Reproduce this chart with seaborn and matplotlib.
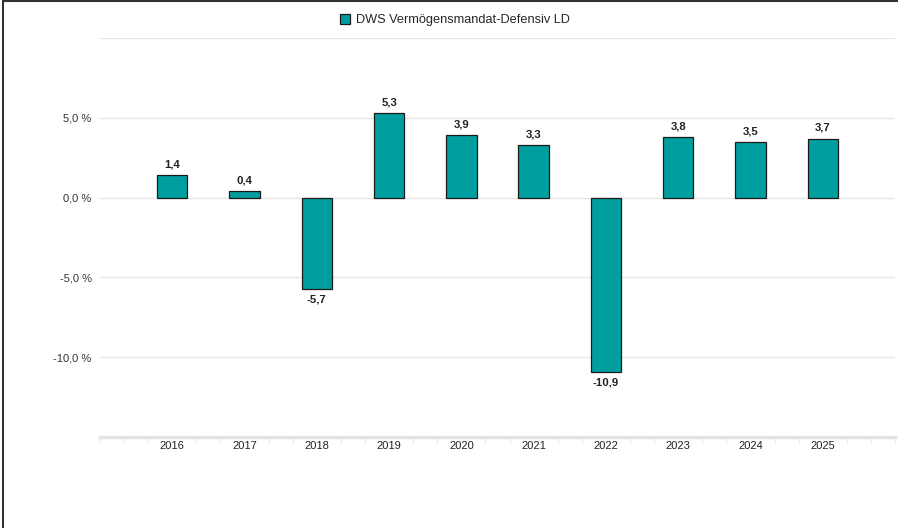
import pandas as pd
import seaborn as sns
import matplotlib.pyplot as plt
from matplotlib.lines import Line2D
from matplotlib.patches import Patch
from matplotlib.ticker import MultipleLocator

years = ['2016', '2017', '2018', '2019', '2020', '2021', '2022', '2023', '2024', '2025']
returns = [1.4, 0.4, -5.7, 5.3, 3.9, 3.3, -10.9, 3.8, 3.5, 3.7]
series_name = 'DWS Vermögensmandat-Defensiv LD'
ytick_vals = [-10, -5, 0, 5, 10]
ytick_labels = ['-10,0 %', '-5,0 %', '0,0 %', '5,0 %', '']

teal = '#009E9E'

sns.set_theme(style='white')
plt.rcParams['font.family'] = ['Liberation Sans', 'DejaVu Sans']

df = pd.DataFrame({'year': years, 'ret': returns})

fig = plt.figure(figsize=(8.98, 5.28), dpi=100)
ax = fig.add_axes([100 / 898, 91 / 528, 795 / 898, 399 / 528])

sns.barplot(data=df, x='year', y='ret', color=teal, saturation=1, width=0.42,
            edgecolor='#1a1a1a', linewidth=0.9, ax=ax, zorder=3)

ax.set_xlim(-1, 10)
ax.set_ylim(-15, 10)
ax.set_yticks(ytick_vals)
ax.set_yticklabels(ytick_labels)
ax.yaxis.grid(True, color='#e6e6e6', lw=1)
ax.set_axisbelow(True)
ax.set(xlabel='', ylabel='')

for s in ['top', 'right', 'left']:
    ax.spines[s].set_visible(False)
ax.spines['bottom'].set_color('#e3e3e3')
ax.spines['bottom'].set_linewidth(2.5)

ax.tick_params(axis='y', length=0, labelsize=8, labelcolor='#333333', pad=6)
ax.tick_params(axis='x', length=0, labelsize=8, labelcolor='#222222', pad=3)
ax.xaxis.set_minor_locator(MultipleLocator(1 / 3))
ax.tick_params(axis='x', which='minor', length=5, width=0.8, color='#ededed', bottom=True)

labels = [f'{v:.1f}'.replace('.', ',') for v in returns]
ax.bar_label(ax.containers[0], labels=labels, padding=4, fontsize=8.2,
             fontweight='bold', color='#222222')

handle = Patch(facecolor=teal, edgecolor='#1a1a1a', linewidth=0.9)
fig.legend([handle], [series_name], loc='center', bbox_to_anchor=(455 / 898, 1 - 20 / 528),
           frameon=False, fontsize=9.2, handlelength=0.8, handleheight=0.9, handletextpad=0.5)

# outer frame (top and left edge)
fig.add_artist(Line2D([3 / 898, 3 / 898], [0, 1 - 1 / 528], transform=fig.transFigure, color='#333333', lw=1.5))
fig.add_artist(Line2D([3 / 898, 1], [1 - 1 / 528, 1 - 1 / 528], transform=fig.transFigure, color='#333333', lw=1.5))

fig.savefig('out.png', dpi=100)
plt.close()
